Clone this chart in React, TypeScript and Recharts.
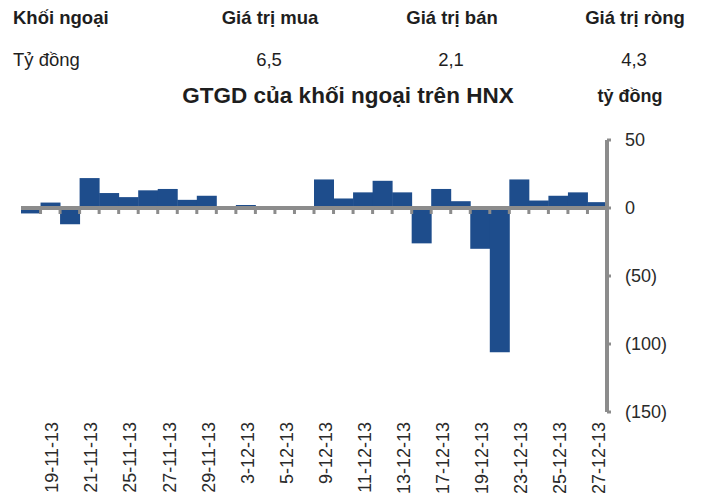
import React from 'react';
import { BarChart, Bar, XAxis, YAxis, ReferenceLine } from 'recharts';

const dates = [
  '18-11-13', '19-11-13', '20-11-13', '21-11-13', '22-11-13', '25-11-13', '26-11-13', '27-11-13', '28-11-13', '29-11-13',
  '2-12-13', '3-12-13', '4-12-13', '5-12-13', '6-12-13', '9-12-13', '10-12-13', '11-12-13', '12-12-13', '13-12-13',
  '16-12-13', '17-12-13', '18-12-13', '19-12-13', '20-12-13', '23-12-13', '24-12-13', '25-12-13', '26-12-13', '27-12-13',
];
const netValues = [
  -4, 4, -12, 22, 11, 8, 13, 14, 6, 9,
  1, 2.2, 0.3, 0.3, 0.3, 21, 7, 11.5, 20, 11.5,
  -26, 14, 5, -30, -106, 21, 5.5, 9, 11.5, 4.3,
];
const shownDates = [
  '19-11-13', '21-11-13', '25-11-13', '27-11-13', '29-11-13', '3-12-13', '5-12-13', '9-12-13',
  '11-12-13', '13-12-13', '17-12-13', '19-12-13', '23-12-13', '25-12-13', '27-12-13',
];
const yTicks = [50, 0, -50, -100, -150];

const headerCols = ['Khối ngoại', 'Giá trị mua', 'Giá trị bán', 'Giá trị ròng'];
const rowLabel = 'Tỷ đồng';
const rowValues = ['6,5', '2,1', '4,3'];
const title = 'GTGD của khối ngoại trên HNX';
const unitLabel = 'tỷ đồng';

const FONT = '"Liberation Sans", Arial, Helvetica, sans-serif';
const BAR = '#1E4D8C';
const GRAY = '#8C8C8C';
const TEXT = '#1e1e1e';

const data = dates.map((d, i) => ({ date: d, value: netValues[i] }));

const colCenters = [270, 452, 635];

const DateTick = (props: any) => {
  const { x, y, payload } = props;
  if (!shownDates.includes(payload.value)) return <g />;
  const tx = x + 2;
  const ty = y + 10;
  return (
    <text
      x={tx}
      y={ty}
      transform={`rotate(-90, ${tx}, ${ty})`}
      textAnchor="end"
      dominantBaseline="central"
      fontSize={18}
      fill="#2a2a2a"
      fontFamily={FONT}
    >
      {payload.value}
    </text>
  );
};

const ZeroLine = (props: any) => {
  const { x1, y1, x2 } = props;
  const n = data.length;
  const step = (x2 - x1) / n;
  const ticks = [];
  for (let i = 1; i < n; i++) {
    ticks.push(<rect key={i} x={x1 + i * step - 1.5} y={y1} width={3} height={6} fill={GRAY} />);
  }
  return (
    <g>
      <line x1={x1 - 1} y1={y1} x2={x2} y2={y1} stroke={GRAY} strokeWidth={4} />
      {ticks}
    </g>
  );
};

const abs = (s: React.CSSProperties): React.CSSProperties => ({
  position: 'absolute',
  fontFamily: FONT,
  color: TEXT,
  whiteSpace: 'nowrap',
  ...s,
});

export default function App() {
  return (
    <div style={{ position: 'absolute', left: 0, top: 0, width: 702, height: 502, background: '#fff', overflow: 'hidden' }}>
      <div style={abs({ left: 13, top: 6, height: 24, lineHeight: '24px', fontSize: 18.5, fontWeight: 'bold' })}>{headerCols[0]}</div>
      {headerCols.slice(1).map((c, i) => (
        <div key={c} style={abs({ left: colCenters[i], top: 6, height: 24, lineHeight: '24px', fontSize: 18.5, fontWeight: 'bold', transform: 'translateX(-50%)' })}>{c}</div>
      ))}
      <div style={abs({ left: 13, top: 48, height: 24, lineHeight: '24px', fontSize: 18.5 })}>{rowLabel}</div>
      {rowValues.map((v, i) => (
        <div key={v} style={abs({ left: colCenters[i] - 1, top: 48, height: 24, lineHeight: '24px', fontSize: 18.5, transform: 'translateX(-50%)' })}>{v}</div>
      ))}
      <div style={abs({ left: 348, top: 82, height: 28, lineHeight: '28px', fontSize: 22.5, fontWeight: 'bold', transform: 'translateX(-50%)' })}>{title}</div>
      <div style={abs({ left: 630, top: 84, height: 24, lineHeight: '24px', fontSize: 18, fontWeight: 'bold', transform: 'translateX(-50%)' })}>{unitLabel}</div>

      <div style={{ position: 'absolute', left: 0, top: 0 }}>
        <BarChart
          width={702}
          height={502}
          data={data}
          margin={{ top: 140, right: 15, bottom: 0, left: 21 }}
          barCategoryGap={0}
          barGap={0}
        >
          <XAxis
            dataKey="date"
            interval={0}
            axisLine={false}
            tickLine={false}
            tickSize={0}
            tickMargin={0}
            height={90}
            tick={<DateTick />}
          />
          <YAxis
            orientation="right"
            width={80}
            domain={[-150, 50]}
            ticks={yTicks}
            interval={0}
            allowDataOverflow
            axisLine={{ stroke: GRAY, strokeWidth: 4 }}
            tickLine={{ stroke: GRAY, strokeWidth: 3 }}
            tickSize={4}
            tickMargin={14}
            tickFormatter={(v: number) => (v < 0 ? `(${-v})` : `${v}`)}
            tick={{ fontSize: 18, fill: '#2a2a2a', fontFamily: FONT }}
          />
          <Bar dataKey="value" fill={BAR} isAnimationActive={false} />
          <ReferenceLine y={0} shape={(p: any) => <ZeroLine {...p} />} />
        </BarChart>
      </div>
    </div>
  );
}
